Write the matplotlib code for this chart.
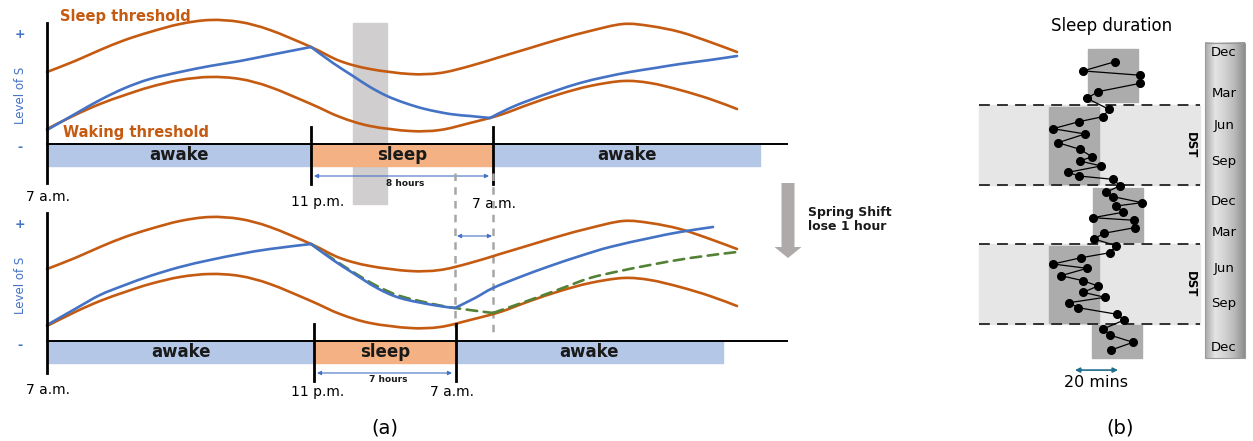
import numpy as np
import matplotlib.pyplot as plt
from matplotlib.patches import Rectangle, FancyArrow, PathPatch
from matplotlib.path import Path
from matplotlib.colors import LinearSegmentedColormap

# ---------------- panel (a): two-process model sketch ----------------
# schematic time axis (x) and level of S above the baseline (y)
x_thr = [47, 75, 100, 125, 150, 180, 210, 240, 270, 311, 340, 370, 410, 440,
         470, 500, 530, 560, 590, 623, 650, 680, 710, 737]
sleep_thr = [72, 83, 94, 104, 112, 120, 124, 122, 114, 97, 83, 75, 70, 71,
             78, 87, 96, 105, 113, 120, 118, 112, 102, 92]
wake_thr = [15, 29, 40, 49, 57, 64, 67, 65, 57, 40, 27, 18, 13, 14,
            21, 29, 40, 50, 58, 63, 61, 54, 45, 35]

# homeostatic pressure, 8 hour night (top)
x_8h = [47, 75, 100, 125, 150, 180, 210, 240, 270, 311, 333, 353, 370, 387,
        405, 425, 450, 470, 490, 510, 530, 555, 580, 605, 630, 655, 680, 710, 737]
s_8h = [14, 30, 44, 56, 65, 72, 78, 83, 89, 97, 81, 68, 57, 48,
        41, 35, 30, 28, 26, 36, 44, 53, 61, 67, 72, 76, 80, 84, 88]

# homeostatic pressure, 7 hour night after spring shift (bottom)
x_7h = [47, 75, 100, 125, 150, 180, 210, 240, 270, 311, 333, 353, 377, 400,
        433, 455, 475, 493, 520, 550, 580, 610, 650, 680, 713]
s_7h = [16, 32, 46, 56, 65, 74, 81, 87, 92, 97, 81, 68, 53, 43,
        36, 33, 43, 53, 64, 75, 85, 94, 103, 109, 114]

# original trajectory (green dashed)
x_ref = [311, 333, 353, 377, 400, 433, 455, 493, 530, 560, 590, 620, 650, 690, 737]
s_ref = [97, 82, 69, 55, 45, 37, 33, 28, 41, 52, 63, 70, 76, 83, 89]

# day segments: 7 a.m., 11 p.m., 7 a.m., end
edges_8h = [47, 311, 493, 760]
edges_7h = [47, 314, 456, 723]
seg_labels = ['awake', 'sleep', 'awake']

# ---------------- panel (b): sleep duration over the years ----------------
months = [0.71, 1.46, 1.81, 2.47, 3.15, 3.69, 4.58, 5.18, 5.59, 6.16, 6.59, 7.30,
          7.84, 8.44, 8.79, 9.19, 9.71, 10.01, 10.28, 10.80, 11.33, 11.69, 12.18, 12.45,
          12.96, 13.40, 13.61, 14.21, 14.67, 15.13, 15.68, 16.25, 16.66, 17.17, 17.52, 18.12,
          18.53, 18.96, 19.47, 19.88, 20.32, 20.72, 21.26, 21.73, 22.46, 22.95, 23.54, 24.17]
sleep_min = [28.8, 14.0, 40.5, 40.5, 20.9, 15.8, 26.0, 23.3, 12.1, 0.0, 14.9, 2.3,
             12.6, 18.1, 12.6, 22.3, 7.0, 12.1, 27.9, 31.2, 24.7, 27.9, 41.4, 29.3,
             32.6, 18.6, 37.7, 38.1, 23.7, 19.1, 29.3, 26.5, 13.0, 0.0, 15.8, 3.7,
             14.0, 20.9, 14.0, 24.2, 7.4, 11.6, 29.8, 33.0, 23.3, 26.5, 37.2, 27.0]
box_start = [-0.33, 4.39, 10.98, 15.70, 22.13]
box_end = [3.99, 10.66, 15.38, 21.97, 24.82]
box_lo = [16.3, -1.9, 18.6, -1.9, 18.1]
box_hi = [39.5, 21.4, 41.9, 21.4, 41.4]
dst_start = [4.23, 15.54]
dst_end = [10.74, 22.05]
month_pos = [0, 3.3, 5.9, 8.8, 12.1, 14.6, 17.5, 20.4, 24.0]
month_names = ['Dec', 'Mar', 'Jun', 'Sep', 'Dec', 'Mar', 'Jun', 'Sep', 'Dec']

ORANGE = '#c55a11'
BLUE = '#4472c4'
AWAKE = '#b4c7e7'
SLEEP = '#f4b183'

plt.rcParams['font.family'] = ['DejaVu Sans']

W, H = 1253, 441
fig = plt.figure(figsize=(W / 100, H / 100), dpi=100)

ax_top = fig.add_axes([0, 1 - 215 / H, 960 / W, 215 / H])
ax_bot = fig.add_axes([0, 0, 960 / W, 226 / H])
ax_top.set_ylim(-71, 144)
ax_bot.set_ylim(-100, 126)
for ax in (ax_top, ax_bot):
    ax.set_xlim(0, 960)
    ax.axis('off')


def smooth_line(ax, xs, ys, breaks=(), **kw):
    # draw a smooth curve through the read points (Catmull-Rom as Bezier),
    # keeping a corner at each x in breaks
    pts = np.column_stack([xs, ys]).astype(float)
    cut = [0] + [list(xs).index(b) for b in breaks] + [len(xs) - 1]
    for a, b in zip(cut[:-1], cut[1:]):
        p = pts[a:b + 1]
        ext = np.vstack([p[0], p, p[-1]])
        verts = [p[0]]
        codes = [Path.MOVETO]
        for i in range(1, len(ext) - 2):
            c1 = ext[i] + (ext[i + 1] - ext[i - 1]) / 6
            c2 = ext[i + 1] - (ext[i + 2] - ext[i]) / 6
            verts += [c1, c2, ext[i + 1]]
            codes += [Path.CURVE4] * 3
        ax.add_patch(PathPatch(Path(verts, codes), fill=False, capstyle='round', **kw))


def draw_panel(ax, edges, xs, ss, breaks, hours, ytop, ybot):
    smooth_line(ax, x_thr, sleep_thr, ec=ORANGE, lw=1.9, zorder=3)
    smooth_line(ax, x_thr, wake_thr, ec=ORANGE, lw=1.9, zorder=3)
    smooth_line(ax, xs, ss, breaks, ec=BLUE, lw=1.9, zorder=4)
    # day / night bar
    for i, lab in enumerate(seg_labels):
        col = SLEEP if lab == 'sleep' else AWAKE
        ax.add_patch(Rectangle((edges[i], -22), edges[i + 1] - edges[i], 22,
                               color=col, zorder=2))
        ax.text((edges[i] + edges[i + 1]) / 2, -11, lab, ha='center', va='center',
                fontsize=12, fontweight='bold', color='#1a1a1a', zorder=5)
    ax.plot([edges[0], 787], [0, 0], color='black', lw=1.4, zorder=5)
    ax.plot([edges[0], edges[0]], [ybot, ytop], color='black', lw=2, zorder=5,
            clip_on=False)
    for xe in edges[1:3]:
        ax.plot([xe, xe], [-40, 17], color='black', lw=2, zorder=5)
    # duration arrow
    ax.annotate('', xy=(edges[2] - 4, -32), xytext=(edges[1] + 3, -32),
                arrowprops=dict(arrowstyle='<|-|>', color=BLUE, lw=0.8,
                                mutation_scale=6, shrinkA=0, shrinkB=0))
    ax.text((edges[1] + edges[2]) / 2 + 3, -39, hours, ha='center', va='center',
            fontsize=6.5, fontweight='bold', color='#1a1a1a')
    # y axis labels
    ax.text(20, (ytop + ybot) / 2 + 8, 'Level of S', rotation=90, ha='center',
            va='center', fontsize=8.5, fontweight='medium', color=BLUE)
    ax.text(20, ytop - 12, '+', ha='center', va='center', fontsize=9,
            fontweight='bold', color=BLUE)
    ax.text(20, -4, '-', ha='center', va='center', fontsize=9,
            fontweight='bold', color=BLUE)


draw_panel(ax_top, edges_8h, x_8h, s_8h, (311, 490), '8 hours', 121, -39)
draw_panel(ax_bot, edges_7h, x_7h, s_7h, (311, 455), '7 hours', 128, -32)

# top panel extras
ax_top.add_patch(Rectangle((353, -60), 34, 181, color='#d0cece', zorder=1))
ax_top.text(60, 127, 'Sleep threshold', ha='left', va='center', fontsize=10.5,
            fontweight='bold', color=ORANGE)
ax_top.text(63, 11, 'Waking threshold', ha='left', va='center', fontsize=10.5,
            fontweight='bold', color=ORANGE)
ax_top.text(48, -53, '7 a.m.', ha='center', va='center', fontsize=10)
ax_top.text(318, -58, '11 p.m.', ha='center', va='center', fontsize=10)
ax_top.text(494, -60, '7 a.m.', ha='center', va='center', fontsize=10, zorder=1)

# bottom panel extras
smooth_line(ax_bot, x_ref, s_ref, (493,), ec='#548235', lw=1.9, ls=(0, (4, 2.5)),
            zorder=3)
for xd, yend in [(455, 14), (493, 3)]:
    ax_bot.plot([xd, xd], [168, yend], color='#a6a6a6', lw=1.8, ls=(0, (3, 2.5)),
                zorder=2, clip_on=False)
ax_bot.annotate('', xy=(492, 105), xytext=(457, 105),
                arrowprops=dict(arrowstyle='<|-|>', color=BLUE, lw=0.8,
                                mutation_scale=6, shrinkA=0, shrinkB=0))
ax_bot.text(48, -49, '7 a.m.', ha='center', va='center', fontsize=10)
ax_bot.text(318, -51, '11 p.m.', ha='center', va='center', fontsize=10)
ax_bot.text(452, -51, '7 a.m.', ha='center', va='center', fontsize=10)
ax_bot.text(385, -87, '(a)', ha='center', va='center', fontsize=14)
ax_bot.add_patch(FancyArrow(788, 158, 0, -75, width=13, head_width=27, head_length=11,
                            length_includes_head=True, color='#aeaaaa', lw=0,
                            clip_on=False))
ax_bot.text(808, 128, 'Spring Shift', ha='left', va='center', fontsize=9,
            fontweight='bold', color='#1a1a1a')
ax_bot.text(808, 114, 'lose 1 hour', ha='left', va='center', fontsize=9,
            fontweight='bold', color='#1a1a1a')

# ---------------- panel (b) ----------------
ax_b = fig.add_axes([960 / W, 0, 293 / W, 1])
for s0, s1 in zip(dst_start, dst_end):
    ax_b.add_patch(Rectangle((-34.4, s0), 102.8, s1 - s0, color='#e6e6e6', zorder=0))
    ax_b.text(63.7, (s0 + s1) / 2, 'DST', rotation=270, ha='center', va='center',
              fontsize=8.5, fontweight='bold', zorder=3)
ax_b.hlines(dst_start + dst_end, -34.4, 68.4, colors='#222222', lw=1.3,
            linestyles=(0, (6, 4)), zorder=2)
for s0, s1, lo, hi in zip(box_start, box_end, box_lo, box_hi):
    ax_b.add_patch(Rectangle((lo, s0), hi - lo, s1 - s0, color='#acacac', zorder=1))
ax_b.plot(sleep_min, months, '-o', color='black', lw=0.9, ms=5.5, zorder=4)

# month scale bar
grad = np.linspace(0, 1, 64).reshape(1, -1)
cmap = LinearSegmentedColormap.from_list(
    'bar', ['#a8a8a8', '#e4e4e4', '#d2d2d2', '#b8b8b8', '#8c8c8c'])
ax_b.imshow(grad, cmap=cmap, extent=(70.7, 89.3, 24.82, -0.81), aspect='auto', zorder=1)
ax_b.add_patch(Rectangle((70.7, -0.81), 18.6, 25.63, fill=False, ec='#9a9a9a',
                         lw=0.8, zorder=2))
for mp, mn in zip(month_pos, month_names):
    ax_b.text(79.5, mp, mn, ha='center', va='center', fontsize=9.5, zorder=3)

ax_b.text(27.4, -2.2, 'Sleep duration', ha='center', va='center', fontsize=12)
ax_b.annotate('', xy=(30.2, 25.8), xytext=(10.2, 25.8),
              arrowprops=dict(arrowstyle='<|-|>', color='#1f6d8c', lw=1.2,
                              mutation_scale=7, shrinkA=0, shrinkB=0))
ax_b.text(19.8, 26.85, '20 mins', ha='center', va='center', fontsize=11.5)
ax_b.text(31.2, 30.5, '(b)', ha='center', va='center', fontsize=14)

ax_b.set_xlim(-43.26, 93.02)
ax_b.set_ylim(31.57, -4.31)
ax_b.axis('off')

fig.savefig('out.png', dpi=100)
